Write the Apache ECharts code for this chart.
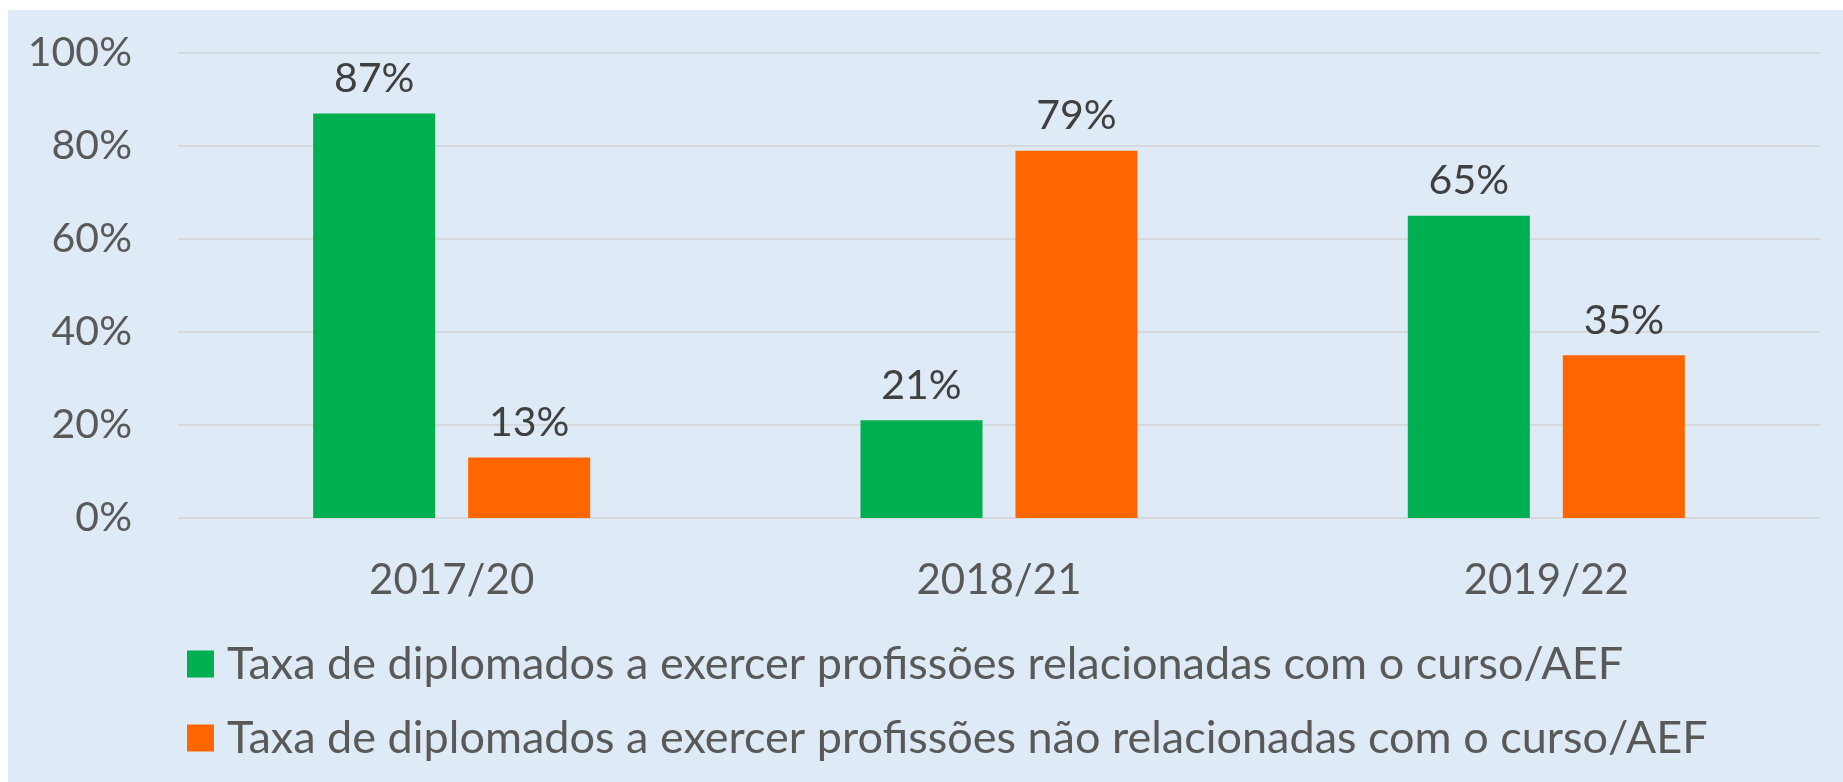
<!DOCTYPE html>
<html>
<head>
<meta charset="utf-8">
<script src="https://cdn.jsdelivr.net/npm/echarts@6/dist/echarts.min.js"></script>
<style>
    html, body { margin: 0; padding: 0; background: #fff; }
    #chart {
        position: absolute;
        left: 8px;
        top: 10px;
        width: 1835px;
        height: 772px;
    }
</style>
</head>
<body>
<div id="chart"></div>
<script>
// dados
const categories = ['2017/20', '2018/21', '2019/22']
const seriesNames = [
    'Taxa de diplomados a exercer profissões relacionadas com o curso/AEF',
    'Taxa de diplomados a exercer profissões não relacionadas com o curso/AEF'
]
const relacionadas = [87, 21, 65]
const naoRelacionadas = [13, 79, 35]
const yTicks = [0, 20, 40, 60, 80, 100]

const font = 'Lato, "Open Sans", sans-serif'

const chart = echarts.init(document.getElementById('chart'))

const labelStyle = {
    show: true,
    position: 'top',
    distance: 14,
    formatter: '{c}%',
    color: '#404040',
    fontSize: 41,
    fontFamily: font
}

const option = {
    backgroundColor: '#DEEBF7',
    animation: false,
    color: ['#00B050', '#FF6600'],
    grid: {
        left: 170,
        right: 23,
        top: 43,
        bottom: 264
    },
    legend: {
        orient: 'vertical',
        left: 174,
        top: 624,
        itemWidth: 27,
        itemHeight: 27,
        itemGap: 24,
        icon: 'rect',
        textStyle: {
            color: '#595959',
            fontSize: 45,
            fontFamily: font,
            lineHeight: 50,
            padding: [0, 0, 0, 8]
        },
        data: seriesNames
    },
    xAxis: {
        type: 'category',
        data: categories,
        axisLine: { show: false },
        axisTick: { show: false },
        axisLabel: {
            margin: 41,
            color: '#595959',
            fontSize: 42,
            fontFamily: font
        }
    },
    yAxis: {
        type: 'value',
        min: yTicks[0],
        max: yTicks[yTicks.length - 1],
        interval: 20,
        axisLabel: {
            margin: 46,
            formatter: '{value}%',
            color: '#595959',
            fontSize: 41,
            fontFamily: font
        },
        splitLine: {
            lineStyle: { color: '#D5D9DE', width: 2 }
        }
    },
    series: [
        {
            name: seriesNames[0],
            type: 'bar',
            data: relacionadas,
            barWidth: '22.3%',
            barGap: '27%',
            label: labelStyle
        },
        {
            name: seriesNames[1],
            type: 'bar',
            data: naoRelacionadas,
            barWidth: '22.3%',
            barGap: '27%',
            label: labelStyle
        }
    ]
}

chart.setOption(option)
</script>
</body>
</html>
